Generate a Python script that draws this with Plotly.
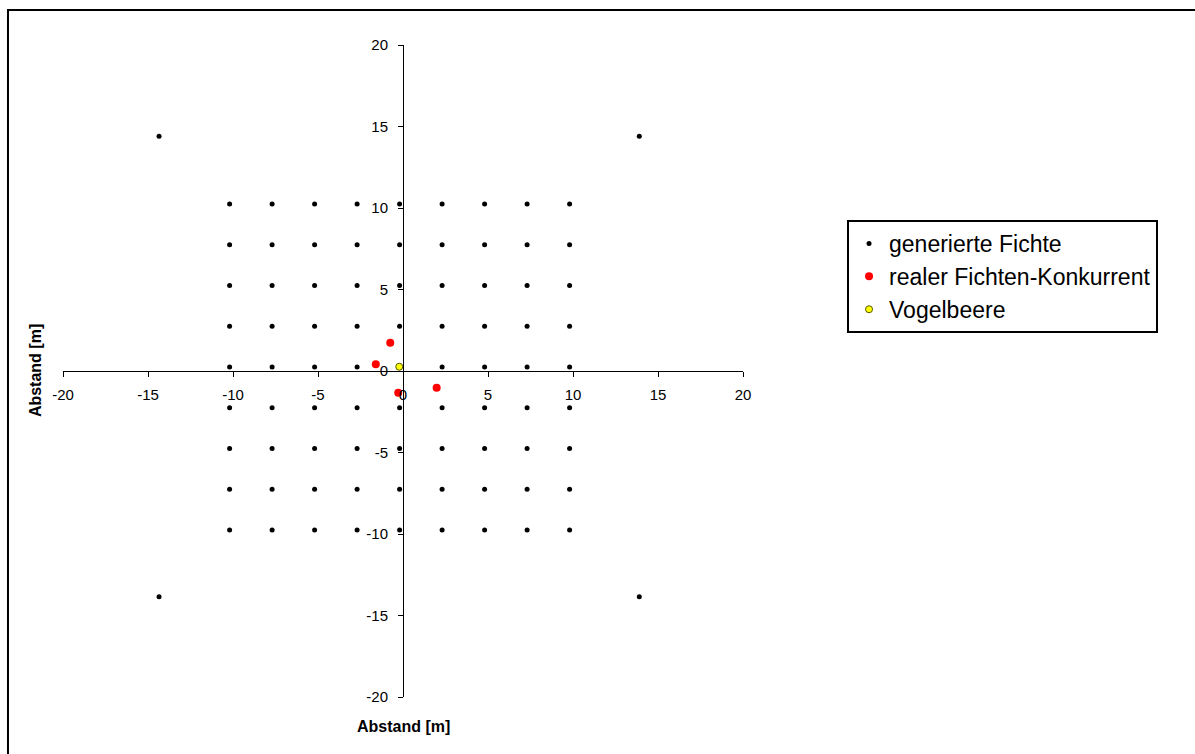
import plotly.graph_objects as go

# generated spruce positions (grid + 4 corner trees)
gen_x = [
    -10.2, -7.7, -5.2, -2.7, -0.2, 2.3, 4.8, 7.3, 9.8,
    -10.2, -7.7, -5.2, -2.7, -0.2, 2.3, 4.8, 7.3, 9.8,
    -10.2, -7.7, -5.2, -2.7, -0.2, 2.3, 4.8, 7.3, 9.8,
    -10.2, -7.7, -5.2, -2.7, -0.2, 2.3, 4.8, 7.3, 9.8,
    -10.2, -7.7, -5.2, -2.7, -0.2, 2.3, 4.8, 7.3, 9.8,
    -10.2, -7.7, -5.2, -2.7, -0.2, 2.3, 4.8, 7.3, 9.8,
    -10.2, -7.7, -5.2, -2.7, -0.2, 2.3, 4.8, 7.3, 9.8,
    -10.2, -7.7, -5.2, -2.7, -0.2, 2.3, 4.8, 7.3, 9.8,
    -10.2, -7.7, -5.2, -2.7, -0.2, 2.3, 4.8, 7.3, 9.8,
    -14.35, 13.9, -14.35, 13.9,
]
gen_y = [
    10.25, 10.25, 10.25, 10.25, 10.25, 10.25, 10.25, 10.25, 10.25,
    7.75, 7.75, 7.75, 7.75, 7.75, 7.75, 7.75, 7.75, 7.75,
    5.25, 5.25, 5.25, 5.25, 5.25, 5.25, 5.25, 5.25, 5.25,
    2.75, 2.75, 2.75, 2.75, 2.75, 2.75, 2.75, 2.75, 2.75,
    0.25, 0.25, 0.25, 0.25, 0.25, 0.25, 0.25, 0.25, 0.25,
    -2.25, -2.25, -2.25, -2.25, -2.25, -2.25, -2.25, -2.25, -2.25,
    -4.75, -4.75, -4.75, -4.75, -4.75, -4.75, -4.75, -4.75, -4.75,
    -7.25, -7.25, -7.25, -7.25, -7.25, -7.25, -7.25, -7.25, -7.25,
    -9.75, -9.75, -9.75, -9.75, -9.75, -9.75, -9.75, -9.75, -9.75,
    14.4, 14.4, -13.85, -13.85,
]

# real spruce competitors
real_x = [-0.75, -1.6, -0.28, 1.98]
real_y = [1.74, 0.41, -1.33, -1.02]

# rowan
vogel_x = [-0.22]
vogel_y = [0.26]

axis_ticks = [-20, -15, -10, -5, 0, 5, 10, 15, 20]
axis_title = "Abstand [m]"
names = ["generierte Fichte", "realer Fichten-Konkurrent", "Vogelbeere"]

FONT = "Liberation Sans, Arial, sans-serif"

fig = go.Figure()
fig.add_trace(go.Scatter(x=gen_x, y=gen_y, mode="markers", name=names[0],
                         legendgroup="g1",
                         marker=dict(color="black", size=5)))
fig.add_trace(go.Scatter(x=real_x, y=real_y, mode="markers", name=names[1],
                         legendgroup="g2",
                         marker=dict(color="#ff0000", size=8)))
fig.add_trace(go.Scatter(x=vogel_x, y=vogel_y, mode="markers", name=names[2],
                         legendgroup="g3",
                         marker=dict(color="#ffff00", size=7,
                                     line=dict(color="#555500", width=1))))

axis_common = dict(
    range=[-20, 20], tickvals=axis_ticks, ticktext=[str(t) for t in axis_ticks],
    showgrid=False, zeroline=False, showline=True, linecolor="black", linewidth=1,
    ticks="outside", ticklen=5, tickwidth=1, tickcolor="black",
    tickfont=dict(family=FONT, size=15, color="black"),
    anchor="free", position=0.5, fixedrange=True,
)
fig.update_layout(
    width=1195, height=754,
    margin=dict(l=63, r=452, t=45, b=57),
    paper_bgcolor="white", plot_bgcolor="white",
    xaxis=dict(**axis_common, side="bottom", ticklabelstandoff=5),
    yaxis=dict(**axis_common, side="left", ticklabelstandoff=7),
    showlegend=True,
    legend=dict(x=1.153, y=0.7316, xanchor="left", yanchor="top",
                traceorder="grouped", tracegroupgap=0,
                bordercolor="black", borderwidth=2, bgcolor="white",
                font=dict(family=FONT, size=23, color="black")),
    annotations=[
        dict(text="<b>" + axis_title + "</b>", xref="paper", yref="paper",
             x=0.5, y=-0.046, xanchor="center", yanchor="middle", showarrow=False,
             font=dict(family=FONT, size=16, color="black")),
        dict(text="<b>" + axis_title + "</b>", xref="paper", yref="paper",
             x=-0.041, y=0.5, xanchor="center", yanchor="middle", showarrow=False,
             textangle=-90,
             font=dict(family=FONT, size=16, color="black")),
    ],
    shapes=[
        dict(type="rect", xref="paper", yref="paper",
             x0=-0.0809, x1=1.9, y0=-0.3, y1=1.0537,
             line=dict(color="black", width=2), layer="below"),
    ],
)

fig.write_html("out.html")
